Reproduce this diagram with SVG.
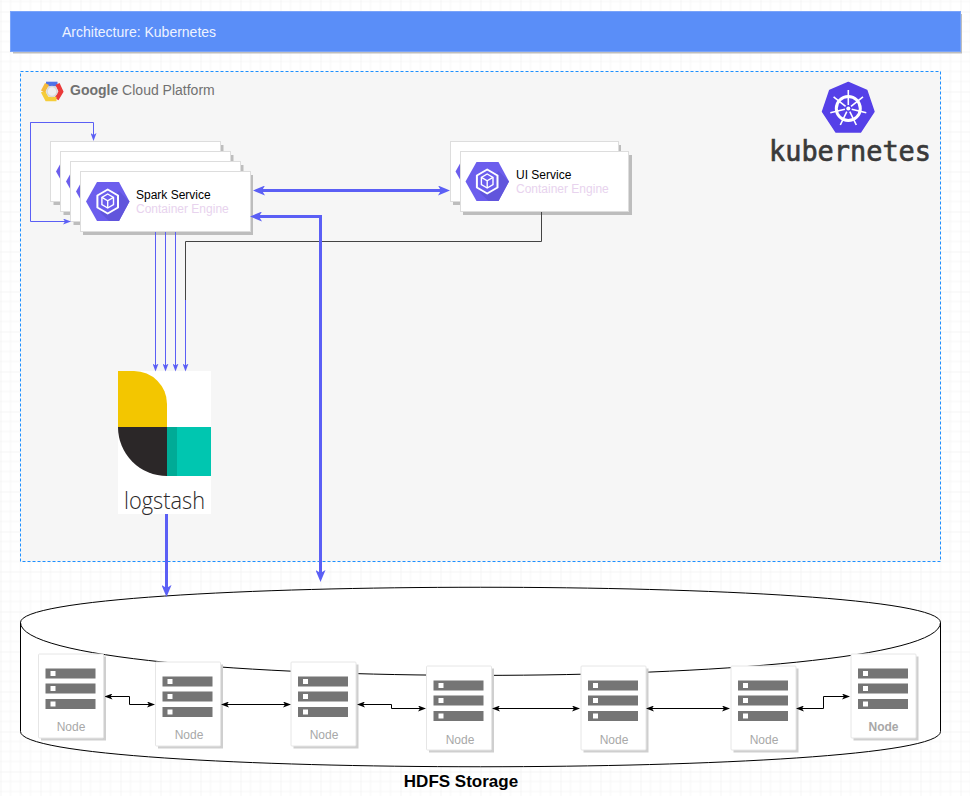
<svg xmlns="http://www.w3.org/2000/svg" xmlns:xlink="http://www.w3.org/1999/xlink" width="970" height="796" viewBox="0 0 970 796">
<style>
text{font-family:"Liberation Sans",Arial,sans-serif}
.card{fill:#fff;stroke:#ddd;stroke-width:1}
.cshadow{fill:#bdbdbd}
.title{font-size:12px;fill:#000}
.sub{font-size:12px;fill:#e8d3ee}
.nodebox{fill:#fff;stroke:#e6e6e6;stroke-width:1}
.nshadow{fill:#cfcfcf}
.bar{fill:#757575}
.sq{fill:#fff}
.nlabel{font-size:12px;fill:#a8a8a8;text-anchor:middle}
.thin{fill:none;stroke:#5b5ff5;stroke-width:1}
.dark{fill:none;stroke:#444;stroke-width:1}
.thick{fill:none;stroke:#5b5ff5;stroke-width:3}
.blk{fill:none;stroke:#000;stroke-width:1}
</style>
<defs>
<pattern id="grid" width="40" height="40" patternUnits="userSpaceOnUse" y="11.5" x="0.5">
<path d="M10 0V40M20 0V40M30 0V40M0 10H40M0 20H40M0 30H40" fill="none" stroke="#f6f6f6" stroke-width="1"/>
<path d="M0 0V40M0 0H40" fill="none" stroke="#ececec" stroke-width="1"/>
</pattern>
<marker id="aThick" markerUnits="userSpaceOnUse" viewBox="0 0 12 10" markerWidth="12" markerHeight="10" refX="4" refY="5" orient="auto-start-reverse"><path d="M0 0L12 5L0 10L3 5Z" fill="#5b5ff5"/></marker>
<marker id="aThin" markerUnits="userSpaceOnUse" viewBox="0 0 8 6" markerWidth="8" markerHeight="6" refX="3" refY="3" orient="auto-start-reverse"><path d="M0 0L8 3L0 6L2 3Z" fill="#5b5ff5"/></marker>
<marker id="aBlk" markerUnits="userSpaceOnUse" viewBox="0 0 8 6" markerWidth="8" markerHeight="6" refX="3" refY="3" orient="auto-start-reverse"><path d="M0 0L8 3L0 6L2 3Z" fill="#000"/></marker>
<g id="hex">
<path d="M0 19.5L11 0H33L43.500 19.500L33 39H11Z" fill="#6c5eed"/>
<path d="M33 39L43.500 19.500L33 9L14 30L23 39Z" fill="#6155dc"/>
<path d="M21.700 7.500L32 13.500V25.500L21.700 31.500L11.400 25.500V13.500Z" fill="#6c5eed" stroke="#fff" stroke-width="2" stroke-linejoin="round"/>
<path d="M21.700 12L27.500 15.300V22.700L21.700 26L15.900 22.700V15.300Z" fill="none" stroke="#fff" stroke-width="1.400"/>
<path d="M15.900 15.300L21.700 18.800L27.500 15.300M21.700 18.800V26" fill="none" stroke="#fff" stroke-width="1.400"/>
</g>
<g id="nodeBody">
<rect class="nshadow" x="2.5" y="2.5" width="65" height="84"/>
<rect class="nodebox" x="0" y="0" width="65" height="84" rx="1"/>
<rect class="bar" x="7" y="14.5" width="50" height="10"/>
<rect class="bar" x="7" y="29.5" width="50" height="10"/>
<rect class="bar" x="7" y="45" width="50" height="10"/>
<rect class="sq" x="12" y="17" width="5" height="5"/>
<rect class="sq" x="12" y="32" width="5" height="5"/>
<rect class="sq" x="12" y="47.5" width="5" height="5"/>
</g>
</defs>

<rect width="970" height="796" fill="#fff"/>
<rect width="970" height="796" fill="url(#grid)"/>

<g id="header">
<rect x="13" y="14" width="949" height="39.500" fill="#bdbdbd"/>
<rect x="10.500" y="11.500" width="950" height="40" fill="#5a8ef8" stroke="#7aa4fa" stroke-width="1"/>
<text x="62" y="37" font-size="14" fill="#eef3ff">Architecture: Kubernetes</text>
</g>

<g id="gcp-panel">
<rect x="20.500" y="71.500" width="920" height="490" fill="#f6f6f6" stroke="#1e90ff" stroke-width="1" stroke-dasharray="3 2"/>
<g id="gcp-logo" fill="none" stroke-width="4.600">
<path d="M46 84L57.500 84" stroke="#4f73e8"/>
<path d="M57.500 84L61 91.500L56.500 99" stroke="#ea3a3a"/>
<path d="M56.500 99L47 99L43 91.500" stroke="#f5cd3a"/>
<path d="M43 91.500L47 84" stroke="#f5b93a"/>
<circle cx="52" cy="91.500" r="5" fill="#f0f0f0" stroke="#d8d8d8" stroke-width="1.500"/>
</g>
<text x="70" y="95" font-size="14" fill="#717171"><tspan font-weight="bold">Google</tspan> Cloud Platform</text>
</g>

<g id="kubernetes-logo">
<path d="M848.300 82.500L866.800 90.500L874 111.700L860.500 132H836L822.500 111.700L829.700 90.500Z" fill="#5540e8" stroke="#5540e8" stroke-width="1.500" stroke-linejoin="round"/>
<circle cx="848.300" cy="108.500" r="12" fill="none" stroke="#fff" stroke-width="3"/>
<circle cx="848.300" cy="108.500" r="2" fill="#fff"/>
<path d="M848.300 105V90M851 106.300L863 96.800M851.700 109.300L866.300 112.700M849.800 111.600L856.300 125M846.800 111.600L840.300 125M844.900 109.300L830.300 112.700M845.600 106.300L833.600 96.800" stroke="#fff" stroke-width="1.600" fill="none"/>
<text x="769" y="160.500" font-size="29" fill="#3a3a3a" stroke="#3a3a3a" stroke-width="0.700" textLength="162" lengthAdjust="spacingAndGlyphs" style="font-family:'DejaVu Sans Mono',monospace">kubernetes</text>
</g>

<g id="spark-service-3"><rect class="cshadow" x="53.500" y="145" width="170" height="60"/><rect class="card" x="50.500" y="141.500" width="170" height="60"/><use xlink:href="#hex" href="#hex" x="56" y="152"/></g>
<g id="spark-service-2"><rect class="cshadow" x="63.500" y="155" width="170" height="60"/><rect class="card" x="60.500" y="151.500" width="170" height="60"/><use xlink:href="#hex" href="#hex" x="66" y="162"/></g>
<g id="spark-service-1"><rect class="cshadow" x="73.500" y="165" width="170" height="60"/><rect class="card" x="70.500" y="161.500" width="170" height="60"/><use xlink:href="#hex" href="#hex" x="76" y="172"/></g>
<g id="spark-service"><rect class="cshadow" x="83" y="175" width="170" height="60"/><rect class="card" x="80.500" y="171.500" width="170" height="60"/><use xlink:href="#hex" href="#hex" x="86" y="182"/>
<text class="title" x="136" y="199">Spark Service</text><text class="sub" x="136" y="213">Container Engine</text></g>

<g id="ui-service-1"><rect class="cshadow" x="453" y="145" width="168" height="60"/><rect class="card" x="450.500" y="141.500" width="168" height="60"/><use xlink:href="#hex" href="#hex" x="455.500" y="152"/></g>
<g id="ui-service"><rect class="cshadow" x="463" y="155" width="169" height="60"/><rect class="card" x="460.500" y="151.500" width="168" height="60"/><use xlink:href="#hex" href="#hex" x="465.500" y="162"/>
<text class="title" x="516" y="179">UI Service</text><text class="sub" x="516" y="193">Container Engine</text></g>

<g id="logstash">
<rect x="118" y="371" width="93" height="143" fill="#fff"/>
<path d="M118 371H134A33 33 0 0 1 167 404V427H118Z" fill="#f3c600"/>
<path d="M118 427H167V476A49 49 0 0 1 118 427Z" fill="#2b2728"/>
<rect x="177" y="427" width="34" height="49" fill="#00c6b0"/>
<rect x="167" y="427" width="10" height="49" fill="#00ab96"/>
<text x="124" y="509" font-size="24" textLength="81" lengthAdjust="spacingAndGlyphs" fill="#2b2728" style="font-family:'Open Sans',sans-serif;font-weight:300">logstash</text>
</g>

<g id="hdfs-storage">
<path d="M20.500 622.500C20.500 575.500 940.500 575.500 940.500 622.500V731.500C940.500 778.500 20.500 778.500 20.500 731.500Z" fill="#fff" stroke="#000" stroke-width="1"/>
<path d="M20.500 622.500C20.500 693 940.500 693 940.500 622.500" fill="none" stroke="#000" stroke-width="1"/>
<text x="461" y="787" font-size="17" font-weight="bold" text-anchor="middle" fill="#000">HDFS Storage</text>
</g>

<g id="node-1"><use xlink:href="#nodeBody" href="#nodeBody" transform="translate(38.500 654)"/><text class="nlabel" x="71" y="731">Node</text></g>
<g id="node-2"><use xlink:href="#nodeBody" href="#nodeBody" transform="translate(155.500 662)"/><text class="nlabel" x="189" y="739">Node</text></g>
<g id="node-3"><use xlink:href="#nodeBody" href="#nodeBody" transform="translate(291 662)"/><text class="nlabel" x="324" y="739">Node</text></g>
<g id="node-4"><use xlink:href="#nodeBody" href="#nodeBody" transform="translate(426.500 666)"/><text class="nlabel" x="460" y="744">Node</text></g>
<g id="node-5"><use xlink:href="#nodeBody" href="#nodeBody" transform="translate(581 666)"/><text class="nlabel" x="614" y="744">Node</text></g>
<g id="node-6"><use xlink:href="#nodeBody" href="#nodeBody" transform="translate(731 666)"/><text class="nlabel" x="764" y="744">Node</text></g>
<g id="node-7"><use xlink:href="#nodeBody" href="#nodeBody" transform="translate(851 654)"/><text class="nlabel" x="883.500" y="731" font-weight="bold">Node</text></g>

<g id="connectors">
<path class="thin" d="M88.500 122.500H30.500V221.500H66" marker-end="url(#aThin)"/>
<path class="thin" d="M30.500 122.500H93.500V136" marker-end="url(#aThin)"/>
<path class="thin" d="M155.500 232V366.500" marker-end="url(#aThin)"/>
<path class="thin" d="M165.500 232V366.500" marker-end="url(#aThin)"/>
<path class="thin" d="M175.500 232V366.500" marker-end="url(#aThin)"/>
<path class="dark" d="M541.500 212V241.500H185.500V300"/>
<path class="thin" d="M185.500 300V366.500" marker-end="url(#aThin)"/>
<path class="thick" d="M261 190.500H442" marker-start="url(#aThick)" marker-end="url(#aThick)"/>
<path class="thick" d="M258 216.500H320.500V574" marker-start="url(#aThick)" marker-end="url(#aThick)"/>
<path class="thick" d="M166.500 514V589" marker-end="url(#aThick)"/>
<path class="blk" d="M109.500 696.500H129.500V704.500H150" marker-start="url(#aBlk)" marker-end="url(#aBlk)"/>
<path class="blk" d="M226 704.500H286" marker-start="url(#aBlk)" marker-end="url(#aBlk)"/>
<path class="blk" d="M362 704.500H391.500V708.500H421" marker-start="url(#aBlk)" marker-end="url(#aBlk)"/>
<path class="blk" d="M497 708.500H575" marker-start="url(#aBlk)" marker-end="url(#aBlk)"/>
<path class="blk" d="M651 708.500H725" marker-start="url(#aBlk)" marker-end="url(#aBlk)"/>
<path class="blk" d="M801 708.500H823.500V696.500H845" marker-start="url(#aBlk)" marker-end="url(#aBlk)"/>
</g>
</svg>
